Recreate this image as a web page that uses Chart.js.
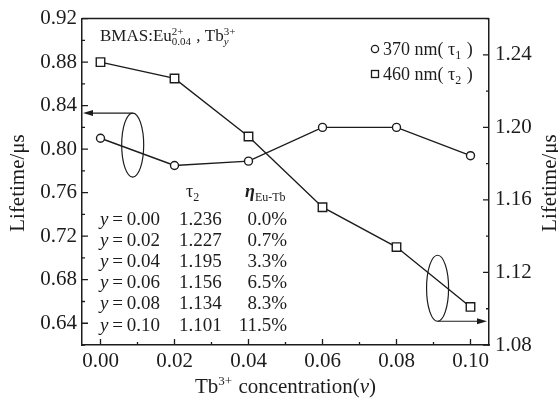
<!DOCTYPE html>
<html>
<head>
<meta charset="utf-8">
<script src="https://cdn.jsdelivr.net/npm/chart.js@4.4.0/dist/chart.umd.min.js"></script>
<style>
  html, body { margin: 0; padding: 0; background: #fff; }
  #wrap { width: 558px; height: 399px; }
</style>
</head>
<body>
<div id="wrap"><canvas id="chart" width="558" height="399"></canvas></div>
<script>
// Tb3+ concentration (y) and lifetimes
const concentration = [0.00, 0.02, 0.04, 0.06, 0.08, 0.10];
const tau1 = [0.810, 0.785, 0.789, 0.820, 0.820, 0.794];   // 370 nm, left axis
const tau2 = [1.236, 1.227, 1.195, 1.156, 1.134, 1.101];   // 460 nm, right axis
const eta = ['0.0%', '0.7%', '3.3%', '6.5%', '8.3%', '11.5%'];

const xTicks = [0.00, 0.02, 0.04, 0.06, 0.08, 0.10];
const xMinor = [0.01, 0.03, 0.05, 0.07, 0.09];
const leftTicks = [0.64, 0.68, 0.72, 0.76, 0.80, 0.84, 0.88, 0.92];
const leftMinor = [0.62, 0.66, 0.70, 0.74, 0.78, 0.82, 0.86, 0.90];
const rightTicks = [1.08, 1.12, 1.16, 1.20, 1.24];
const rightMinor = [1.10, 1.14, 1.18, 1.22, 1.26];

const INK = '#1c1c1c';
const SERIF = '"Liberation Serif", "DejaVu Serif", serif';

function font(size, italic, bold) {
    return (italic ? 'italic ' : '') + (bold ? 'bold ' : '') + size + 'px ' + SERIF;
}

// draws text made of parts; a part is {t} or {sup, sub} stacked
function drawRich(ctx, x, y, parts, size, dry) {
    let cx = x;
    for (const p of parts) {
        if (p.sup !== undefined || p.sub !== undefined) {
            const ss = Math.round(size * 0.64);
            let w = 0;
            if (p.sup) {
                ctx.font = font(ss, p.supI);
                if (!dry) ctx.fillText(p.sup, cx, y - size * 0.38);
                w = Math.max(w, ctx.measureText(p.sup).width);
            }
            if (p.sub) {
                ctx.font = font(ss, p.subI);
                if (!dry) ctx.fillText(p.sub, cx, y + size * 0.22);
                w = Math.max(w, ctx.measureText(p.sub).width);
            }
            cx += w + 1;
        } else {
            ctx.font = font(size, p.i, p.b);
            if (!dry) ctx.fillText(p.t, cx, y);
            cx += ctx.measureText(p.t).width;
        }
    }
    return cx - x;
}

function fixWidth(w) {
    return scale => { scale.width = w; };
}

const decor = {
    id: 'decor',
    afterDraw(chart) {
        const {ctx, chartArea: a, scales} = chart;
        const x = scales.x, yL = scales.yL, yR = scales.yR;
        ctx.save();
        ctx.strokeStyle = INK;
        ctx.fillStyle = INK;
        ctx.lineWidth = 1.5;

        // top frame line
        ctx.beginPath();
        ctx.moveTo(a.left, a.top);
        ctx.lineTo(a.right, a.top);
        ctx.stroke();

        // inward tick marks
        ctx.lineWidth = 1.3;
        ctx.beginPath();
        xTicks.forEach(v => { const p = x.getPixelForValue(v); ctx.moveTo(p, a.bottom); ctx.lineTo(p, a.bottom - 6); });
        xMinor.forEach(v => { const p = x.getPixelForValue(v); ctx.moveTo(p, a.bottom); ctx.lineTo(p, a.bottom - 3); });
        leftTicks.forEach(v => { const p = yL.getPixelForValue(v); ctx.moveTo(a.left, p); ctx.lineTo(a.left + 6, p); });
        leftMinor.forEach(v => { const p = yL.getPixelForValue(v); ctx.moveTo(a.left, p); ctx.lineTo(a.left + 3, p); });
        rightTicks.forEach(v => { const p = yR.getPixelForValue(v); ctx.moveTo(a.right, p); ctx.lineTo(a.right - 6, p); });
        rightMinor.forEach(v => { const p = yR.getPixelForValue(v); ctx.moveTo(a.right, p); ctx.lineTo(a.right - 3, p); });
        ctx.stroke();

        // ellipses with arrows pointing to the matching axis
        ctx.lineWidth = 1.2;
        const e1x = x.getPixelForValue(0.0087), e1y = yL.getPixelForValue(0.8038);
        ctx.beginPath();
        ctx.ellipse(e1x, e1y, 11, 32, 0, 0, Math.PI * 2);
        ctx.stroke();
        ctx.beginPath();
        ctx.moveTo(e1x, e1y - 32);
        ctx.lineTo(a.left + 8, e1y - 32);
        ctx.stroke();
        ctx.beginPath();
        ctx.moveTo(a.left + 1, e1y - 32);
        ctx.lineTo(a.left + 11, e1y - 35);
        ctx.lineTo(a.left + 11, e1y - 29);
        ctx.closePath();
        ctx.fill();

        const e2x = x.getPixelForValue(0.0911), e2y = yR.getPixelForValue(1.1113);
        ctx.beginPath();
        ctx.ellipse(e2x, e2y, 11, 33, 0, 0, Math.PI * 2);
        ctx.stroke();
        ctx.beginPath();
        ctx.moveTo(e2x, e2y + 33);
        ctx.lineTo(a.right - 8, e2y + 33);
        ctx.stroke();
        ctx.beginPath();
        ctx.moveTo(a.right - 2, e2y + 33);
        ctx.lineTo(a.right - 12, e2y + 30);
        ctx.lineTo(a.right - 12, e2y + 36);
        ctx.closePath();
        ctx.fill();

        ctx.textBaseline = 'alphabetic';
        ctx.textAlign = 'left';

        // sample label
        drawRich(ctx, 100, 41, [
            {t: 'BMAS:Eu'}, {sup: '2+', sub: '0.04'}, {t: ' , Tb'}, {sup: '3+', sub: 'y', subI: true}
        ], 17);

        // legend
        ctx.lineWidth = 1.3;
        ctx.beginPath();
        ctx.arc(375, 49, 3.6, 0, Math.PI * 2);
        ctx.stroke();
        ctx.strokeRect(371.5, 70.5, 7, 7);
        drawRich(ctx, 383, 55, [{t: '370 nm( τ'}, {sub: '1'}, {t: ' )'}], 18);
        drawRich(ctx, 383, 80, [{t: '460 nm( τ'}, {sub: '2'}, {t: ' )'}], 18);

        // table
        drawRich(ctx, 186, 197, [{t: 'τ'}, {sub: '2'}], 18);
        drawRich(ctx, 245, 197, [{t: 'η', i: true, b: true}, {sub: 'Eu-Tb'}], 18);
        concentration.forEach((c, i) => {
            const by = 224.5 + i * 21.2;
            drawRich(ctx, 100, by, [{t: 'y', i: true}, {t: '\u2009=\u2009' + c.toFixed(2)}], 19);
            ctx.font = font(19);
            ctx.textAlign = 'left';
            ctx.fillText(tau2[i].toFixed(3), 179, by);
            ctx.textAlign = 'right';
            ctx.fillText(eta[i], 287, by);
            ctx.textAlign = 'left';
        });

        // axis titles
        const xt = [{t: 'Tb'}, {sup: '3+'}, {t: ' concentration('}, {t: 'v', i: true}, {t: ')'}];
        const w = drawRich(ctx, 0, 0, xt, 21, true);
        drawRich(ctx, (a.left + a.right) / 2 - w / 2, 393, xt, 21);

        ctx.font = font(21);
        ctx.textAlign = 'center';
        ctx.save();
        ctx.translate(24, 183);
        ctx.rotate(-Math.PI / 2);
        ctx.fillText('Lifetime/μs', 0, 0);
        ctx.restore();
        ctx.save();
        ctx.translate(556, 183);
        ctx.rotate(-Math.PI / 2);
        ctx.fillText('Lifetime/μs', 0, 0);
        ctx.restore();

        ctx.restore();
    }
};

const tickFont = {family: SERIF, size: 21};

new Chart(document.getElementById('chart'), {
    type: 'line',
    data: {
        datasets: [{
            label: '370 nm(τ1)',
            data: concentration.map((c, i) => ({x: c, y: tau1[i]})),
            yAxisID: 'yL',
            borderColor: INK,
            borderWidth: 1.4,
            pointStyle: 'circle',
            pointRadius: 4,
            pointBorderWidth: 1.4,
            pointBackgroundColor: '#fff',
            pointBorderColor: INK,
            tension: 0
        }, {
            label: '460 nm(τ2)',
            data: concentration.map((c, i) => ({x: c, y: tau2[i]})),
            yAxisID: 'yR',
            borderColor: INK,
            borderWidth: 1.4,
            pointStyle: 'rect',
            pointRadius: 6,
            pointBorderWidth: 1.4,
            pointBackgroundColor: '#fff',
            pointBorderColor: INK,
            tension: 0
        }]
    },
    options: {
        responsive: false,
        animation: false,
        layout: {padding: {top: 17, left: 0, right: 0, bottom: 0}},
        plugins: {legend: {display: false}, tooltip: {enabled: false}},
        scales: {
            x: {
                type: 'linear',
                min: -0.005,
                max: 0.105,
                afterBuildTicks: s => { s.ticks = xTicks.map(v => ({value: v})); },
                afterFit: s => { s.height = 54; },
                grid: {display: false, drawTicks: false},
                border: {display: true, color: INK, width: 1.5},
                ticks: {font: tickFont, color: INK, padding: 4, maxRotation: 0, callback: v => v.toFixed(2)}
            },
            yL: {
                position: 'left',
                min: 0.62,
                max: 0.92,
                afterBuildTicks: s => { s.ticks = leftTicks.map(v => ({value: v})); },
                afterFit: fixWidth(82),
                grid: {display: false, drawTicks: false},
                border: {display: true, color: INK, width: 1.5},
                ticks: {font: tickFont, color: INK, padding: 5, callback: v => v.toFixed(2)}
            },
            yR: {
                position: 'right',
                min: 1.08,
                max: 1.26,
                afterBuildTicks: s => { s.ticks = rightTicks.map(v => ({value: v})); },
                afterFit: fixWidth(69),
                grid: {display: false, drawTicks: false},
                border: {display: true, color: INK, width: 1.5},
                ticks: {font: tickFont, color: INK, padding: 6, callback: v => v.toFixed(2)}
            }
        }
    },
    plugins: [decor]
});
</script>
</body>
</html>
